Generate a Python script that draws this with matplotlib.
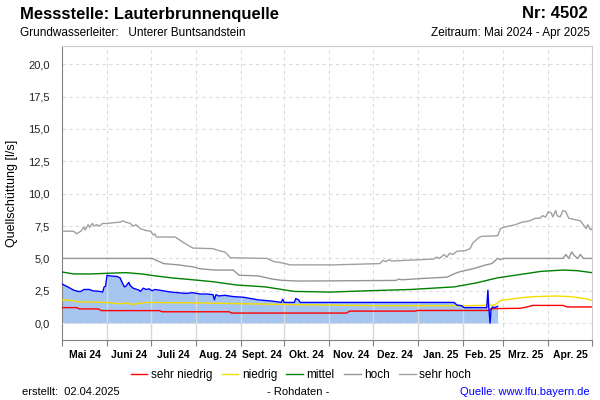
import numpy as np
import matplotlib
matplotlib.use("Agg")
import matplotlib.pyplot as plt
from matplotlib.lines import Line2D
from matplotlib.ticker import FixedLocator, FuncFormatter

plt.rcParams["font.family"] = ["Liberation Sans", "DejaVu Sans"]

# days since 01.05.2024
month_starts = [0, 31, 61, 92, 123, 153, 184, 214, 245, 276, 304, 335, 365]
month_labels = ["Mai 24", "Juni 24", "Juli 24", "Aug. 24", "Sept. 24", "Okt. 24",
                "Nov. 24", "Dez. 24", "Jan. 25", "Feb. 25", "Mrz. 25", "Apr. 25"]

# Rohdaten (Quellschüttung in l/s)
raw_days = [0, 4, 8, 11, 13, 15, 19, 21, 26, 28, 29, 30, 31, 33, 38, 40, 42, 43, 44, 46,
            47, 49, 53, 54, 56, 58, 60, 62, 64, 67, 75, 80, 85, 90, 95, 100, 104, 105, 106,
            108, 112, 118, 125, 130, 135, 140, 145, 148, 151, 152, 153, 160, 161, 163, 164,
            270, 272, 275, 277, 290, 292.5, 293.3, 293.8, 294.8, 295.5, 296.5, 298, 300]
raw_vals = [3.02, 2.8, 2.55, 2.45, 2.45, 2.6, 2.6, 2.5, 2.45, 2.4, 2.8, 2.85, 3.7, 3.65,
            3.6, 3.5, 3.0, 2.8, 2.85, 3.15, 2.9, 2.7, 2.55, 2.45, 2.7, 2.6, 2.65, 2.5, 2.6,
            2.55, 2.4, 2.35, 2.3, 2.35, 2.25, 2.25, 2.2, 1.8, 2.2, 2.1, 2.15, 2.05, 2.0, 1.9,
            1.8, 1.75, 1.7, 1.65, 1.6, 1.85, 1.6, 1.6, 1.9, 1.8, 1.6,
            1.6, 1.4, 1.35, 1.2, 1.2, 1.2, 2.55, 1.4, 0.0, 1.1, 1.25, 1.2, 1.3]

# Vergleichswerte
sehr_hoch_days = [0, 8, 10, 13, 15, 16, 18, 19, 21, 22, 24, 26, 28, 31, 35, 40, 42, 44, 47,
                  49, 51, 54, 58, 61, 63, 64, 65, 78, 84, 90, 104, 108, 112, 114, 116, 141,
                  146, 152, 157, 187, 219, 221, 223, 225, 227, 256, 258, 260, 263, 265, 267,
                  269, 272, 278, 281, 283, 287, 289, 300, 302, 304, 308, 312, 317, 322, 326,
                  329, 331, 333, 335, 337, 338, 340, 341, 343, 345, 347, 349, 357, 359, 361,
                  362, 364, 365]
sehr_hoch_vals = [7.1, 7.1, 6.9, 7.1, 7.4, 7.2, 7.6, 7.4, 7.7, 7.5, 7.6, 7.5, 7.7, 7.7,
                  7.75, 7.8, 7.9, 7.8, 7.7, 7.5, 7.6, 7.3, 7.15, 7.1, 6.8, 6.9, 6.65, 6.65,
                  6.2, 5.8, 5.75, 5.6, 5.5, 5.3, 5.05, 5.0, 4.75, 4.65, 4.5, 4.5, 4.6, 4.85,
                  4.75, 4.9, 4.8, 4.95, 5.1, 5.0, 5.3, 5.1, 5.4, 5.3, 5.55, 5.6, 5.75, 6.2,
                  6.6, 6.7, 6.75, 7.3, 7.4, 7.5, 7.6, 7.8, 7.9, 8.1, 8.1, 8.3, 8.2, 8.6, 8.5,
                  8.2, 8.7, 8.3, 8.2, 8.7, 8.6, 8.1, 7.9, 7.6, 7.3, 7.6, 7.2, 7.3]

hoch_days = [0, 62, 66, 70, 80, 90, 95, 105, 118, 122, 135, 141, 145, 152, 164, 230, 232,
             234, 248, 265, 272, 275, 283, 292, 296, 300, 302, 304, 345, 347, 349, 351,
             353, 355, 357, 359, 365]
hoch_vals = [5.0, 5.0, 4.8, 4.6, 4.5, 4.35, 4.2, 4.1, 4.1, 3.7, 3.65, 3.5, 3.4, 3.3, 3.25,
             3.3, 3.4, 3.35, 3.45, 3.55, 3.9, 4.0, 4.2, 4.5, 4.6, 5.0, 4.9, 5.0, 5.0, 5.3,
             5.0, 5.5, 5.2, 5.0, 5.3, 5.0, 5.0]

mittel_days = [0, 8, 20, 31, 44, 55, 61, 75, 90, 104, 120, 140, 160, 185, 210, 240, 270,
               285, 300, 315, 330, 345, 355, 365]
mittel_vals = [3.95, 3.8, 3.8, 3.85, 3.9, 3.8, 3.7, 3.5, 3.35, 3.2, 2.95, 2.8, 2.45, 2.4,
               2.5, 2.6, 2.8, 3.1, 3.5, 3.75, 4.0, 4.1, 4.05, 3.9]

niedrig_days = [0, 8, 10, 30, 40, 45, 48, 55, 60, 100, 150, 180, 220, 280, 298, 302, 315,
                325, 340, 350, 360, 365]
niedrig_vals = [1.8, 1.75, 1.65, 1.6, 1.5, 1.55, 1.45, 1.55, 1.6, 1.55, 1.45, 1.4, 1.35,
                1.35, 1.4, 1.75, 1.95, 2.05, 2.1, 2.05, 1.9, 1.75]

sehr_niedrig_days = [0, 10, 12, 25, 27, 67, 69, 115, 117, 196, 198, 243, 245, 294, 296, 316,
                     322, 324, 345, 348, 365]
sehr_niedrig_vals = [1.2, 1.2, 1.1, 1.1, 0.97, 0.97, 0.88, 0.88, 0.78, 0.78, 0.93, 0.93,
                     0.98, 0.98, 1.12, 1.15, 1.3, 1.37, 1.37, 1.25, 1.25]

fig = plt.figure(figsize=(6, 4), dpi=100)
ax = fig.add_axes([62 / 600, 60 / 400, 530 / 600, 294 / 400])
ax.set_xlim(0, 365)
ax.set_ylim(-1.3, 21.4)

grid_c = "#dcdcdc"
for y in np.arange(0, 21, 2.5):
    ax.axhline(y, color=grid_c, lw=0.8, ls=(0, (3, 3)), zorder=1)
for d in month_starts[1:-1]:
    ax.axvline(d, color=grid_c, lw=0.8, ls=(0, (3, 3)), zorder=1)

ax.fill_between(raw_days, 0, raw_vals, color="#a6c6f0", lw=0, zorder=2)
# solid month lines where Rohdaten exist
for d in month_starts[1:-1]:
    if d <= raw_days[-1]:
        ax.plot([d, d], [-1.3, np.interp(d, raw_days, raw_vals)], color="#d8d8d8",
                lw=1.0, zorder=3)
ax.axhline(0, color="#e4e4e4", lw=0.8, ls=(0, (3, 3)), zorder=3)

ax.plot(sehr_hoch_days, sehr_hoch_vals, color="#a0a0a0", lw=1.0, zorder=4)
ax.plot(hoch_days, hoch_vals, color="#959595", lw=1.0, zorder=4)
ax.plot(mittel_days, mittel_vals, color="#008000", lw=1.0, zorder=4)
ax.plot(niedrig_days, niedrig_vals, color="#f5dc00", lw=1.0, zorder=4)
ax.plot(sehr_niedrig_days, sehr_niedrig_vals, color="#ff0000", lw=1.0, zorder=4)
ax.plot(raw_days, raw_vals, color="#0000ff", lw=1.0, zorder=5)

# axes style
for s in ["left", "bottom"]:
    ax.spines[s].set_color("#808080")
for s in ["top", "right"]:
    ax.spines[s].set_color("#cccccc")
ax.set_yticks(np.arange(0, 21, 2.5))
ax.yaxis.set_major_formatter(FuncFormatter(lambda v, p: f"{v:.1f}".replace(".", ",")))
ax.tick_params(axis="y", length=0, labelsize=8, pad=9, labelcolor="#222222")
ax.xaxis.set_major_locator(FixedLocator(month_starts))
ax.xaxis.set_major_formatter(FuncFormatter(lambda v, p: ""))
mids = [(a + b) / 2 for a, b in zip(month_starts[:-1], month_starts[1:])]
ax.xaxis.set_minor_locator(FixedLocator(mids))
ax.set_xticklabels(month_labels, minor=True, fontsize=7.5, fontweight="bold")
ax.tick_params(axis="x", which="major", length=4, color="#808080")
ax.tick_params(axis="x", which="minor", length=0, pad=7)
ax.set_ylabel("Quellschüttung [l/s]", fontsize=9)
ax.yaxis.set_label_coords(-44 / 530, 0.5)

# header
fig.text(20 / 600, 1 - 14 / 400, "Messstelle: Lauterbrunnenquelle", fontsize=12,
         fontweight="bold", va="center")
fig.text(588 / 600, 1 - 14 / 400, "Nr: 4502", fontsize=12, fontweight="bold",
         va="center", ha="right")
fig.text(20 / 600, 1 - 33 / 400, "Grundwasserleiter:   Unterer Buntsandstein",
         fontsize=8.5, va="center")
fig.text(590 / 600, 1 - 33 / 400, "Zeitraum: Mai 2024 - Apr 2025", fontsize=8.5,
         va="center", ha="right")

# legend
handles = [Line2D([], [], color=c, lw=1) for c in
           ["#ff0000", "#f5dc00", "#008000", "#959595", "#a0a0a0"]]
fig.legend(handles, ["sehr niedrig", "niedrig", "mittel", "hoch", "sehr hoch"],
           loc="center", bbox_to_anchor=(301 / 600, 1 - 375 / 400), ncol=5,
           frameon=False, fontsize=8.5, handlelength=1.4, handletextpad=0.3,
           columnspacing=0.8)

# footer
fig.text(22 / 600, 1 - 392 / 400, "erstellt:  02.04.2025", fontsize=8, va="center")
fig.text(298 / 600, 1 - 392 / 400, "- Rohdaten -", fontsize=8, va="center", ha="center")
fig.text(590 / 600, 1 - 392 / 400, "Quelle: www.lfu.bayern.de", fontsize=8,
         va="center", ha="right", color="#0000ff")

fig.savefig("out.png", dpi=100)
